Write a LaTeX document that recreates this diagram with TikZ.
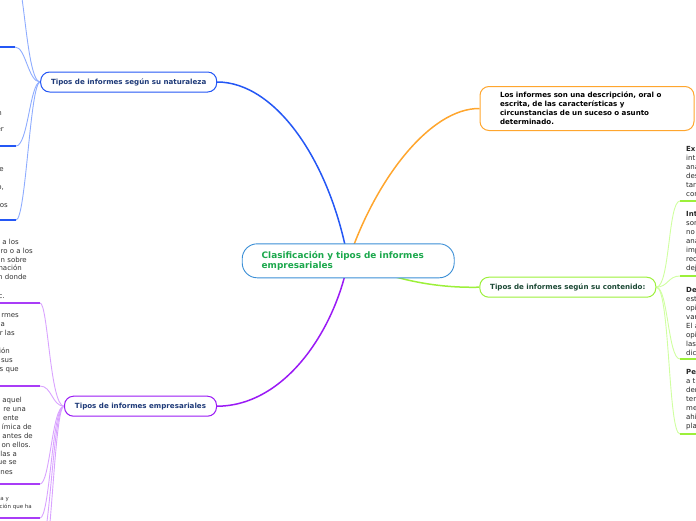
\documentclass[tikz,border=0pt]{standalone}
\usepackage{fontspec}
\setmainfont{DejaVu Sans}
\usetikzlibrary{backgrounds}

\definecolor{rootline}{HTML}{3B8FD6}
\definecolor{rootgreen}{HTML}{1BA84C}
\definecolor{natblue}{HTML}{2457F5}
\definecolor{natleaf}{HTML}{8EACFF}
\definecolor{empurple}{HTML}{9A1AF5}
\definecolor{empleaf}{HTML}{D9A3FF}
\definecolor{conlime}{HTML}{9CF03A}
\definecolor{conleaf}{HTML}{CFFFA0}
\definecolor{deforange}{HTML}{FFA62E}
\definecolor{navytext}{HTML}{1E3A78}
\definecolor{condark}{HTML}{1D4A36}
\definecolor{leaftext}{HTML}{333333}

\begin{document}
\begin{tikzpicture}[x=1pt, y=-1pt,
    topic/.style={draw, line width=1pt, rounded corners=9pt, fill=white, minimum height=20pt,
      inner xsep=0pt, font=\fontsize{7.1}{9}\selectfont\bfseries, text=navytext},
    branch/.style={line width=1.5pt},
    twig/.style={line width=0.9pt},
    shelf/.style={line width=1.8pt},
    leaf/.style={font=\fontsize{7}{9}\selectfont, text=leaftext, inner sep=0pt}]
    \useasboundingbox (0,0) rectangle (696,520);
    \clip (0,0) rectangle (696,520);

    % Central topic
    \node[topic, draw=rootline, line width=0.9pt, rounded corners=15pt, minimum width=212pt,
      minimum height=34pt, text width=173pt, inner xsep=19.5pt, align=left,
      font=\fontsize{8.9}{10.5}\selectfont\bfseries, text=rootgreen] (root) at (348.2,260.8)
      {Clasificación y tipos de informes\\empresariales};

    % Main topics
    \node[topic, draw=natblue, minimum width=176pt] (nat) at (128.7,82) {Tipos de informes según su naturaleza};
    \node[topic, draw=empurple, minimum width=152pt] (emp) at (140.5,406.2) {Tipos de informes empresariales};
    \node[topic, draw=conlime, minimum width=176pt, text=condark] (con) at (567.8,287.2) {Tipos de informes según su contenido:};
    \node[topic, draw=deforange, minimum height=44pt, text width=174pt, inner xsep=20pt, align=left,
      text=black] (def) at (587,108.5)
      {Los informes son una descripción, oral o\\escrita, de las características y\\circunstancias de un suceso o asunto\\determinado.};

    % Leaf anchors
    \coordinate (n0) at (14,-30);
    \coordinate (n1) at (15,47);
    \coordinate (n2) at (16,146);
    \coordinate (n3) at (16,220);
    \coordinate (e1) at (40,303);
    \coordinate (e2) at (40,386);
    \coordinate (e3) at (40,484);
    \coordinate (e4) at (40,518);
    \coordinate (e5) at (40,548);
    \coordinate (e6) at (40,580);
    \coordinate (c1) at (680,201);
    \coordinate (c2) at (680,276);
    \coordinate (c3) at (680,359);
    \coordinate (c4) at (680,434);

    % Leaf texts (cut off by the page edges)
    \foreach \txt/\x/\y [count=\i] in {n/2/113, er/4/129, e/4/169, {o,}/4/187, os/8/205}
      \node[leaf, anchor=base east] (nl\i) at (\x,\y+2.4) {\txt};
    \foreach \txt/\x/\y [count=\i] in {a los/19/242, ro o a los/33/251, n sobre/27/260, nación/22/268,
        n donde/27/277, c./5/296, rmes/19/315, a/5/324, r las/15/333, ión/10/351, sus/13/360,
        s que/19/369, aquel/22/400, re una/26/409, ente/19/418, ímica de/32/427, antes de/33/436,
        on ellos./31/445, las a/17/454, ue se/17/462, nes/13/472}
      \node[leaf, anchor=base east] (el\i) at (\x,\y+2.4) {\txt};
    \node[leaf, anchor=base east, font=\fontsize{5.5}{7}\selectfont] (es1) at (9,500.5) {a y};
    \node[leaf, anchor=base east, font=\fontsize{5.5}{7}\selectfont] (es2) at (32,508.5) {ción que ha};
    \foreach \txt/\y [count=\i] in {\textbf{Ex}/149, int/158, ana/167, des/176, tar/185, con/194,
        \textbf{Int}/214, sor/223, no/232, ana/241, imp/250, rec/259, dej/268,
        \textbf{De}/290, est/299, opi/308, var/317, El a/326, opi/335, las/344, dic/353,
        \textbf{Pe}/372, a t/381, der/390, ter/399, me/408, ahi/417, pla/426}
      \node[leaf, anchor=base west, text=black!85] (cl\i) at (686,\y+2.4) {\txt};

    \begin{scope}[on background layer]
      % Branches
      \draw[branch, natblue] (root.center) .. controls (330,160) and (275,82) .. (nat.east);
      \draw[branch, deforange] (root.center) .. controls (375,180) and (430,108) .. (def.west);
      \draw[branch, conlime] (root.center) .. controls (400,282) and (440,288) .. (con.west);
      \draw[branch, empurple] (root.center) .. controls (335,330) and (285,406) .. (emp.east);

      % Naturaleza leaves
      \draw[twig, natleaf] (nat.west) .. controls (26,82) and (24,-30) .. (n0);
      \draw[twig, natleaf] (nat.west) .. controls (28,82) and (26,47) .. (n1);
      \draw[twig, natleaf] (nat.west) .. controls (30,82) and (28,146) .. (n2);
      \draw[twig, natleaf] (nat.west) .. controls (30,82) and (26,220) .. (n3);
      \foreach \c in {n0,n1,n2,n3}
        \draw[shelf, natblue] (\c) -- ++(-80,0);

      % Empresariales leaves
      \draw[twig, empleaf] (emp.west) .. controls (50,406) and (48,303) .. (e1);
      \draw[twig, empleaf] (emp.west) .. controls (52,406) and (52,386) .. (e2);
      \draw[twig, empleaf] (emp.west) .. controls (52,406) and (50,484) .. (e3);
      \draw[twig, empleaf] (emp.west) .. controls (52,406) and (50,518) .. (e4);
      \draw[twig, empleaf] (emp.west) .. controls (53,406) and (50,548) .. (e5);
      \draw[twig, empleaf] (emp.west) .. controls (54,406) and (51,580) .. (e6);
      \foreach \c in {e1,e2,e3,e4,e5,e6}
        \draw[shelf, empurple!85] (\c) -- ++(-80,0);

      % Contenido leaves
      \draw[twig, conleaf] (con.east) .. controls (670,287) and (668,201) .. (c1);
      \draw[twig, conleaf] (con.east) .. controls (668,287) and (668,276) .. (c2);
      \draw[twig, conleaf] (con.east) .. controls (668,287) and (668,359) .. (c3);
      \draw[twig, conleaf] (con.east) .. controls (670,287) and (668,434) .. (c4);
      \foreach \c in {c1,c2,c3,c4}
        \draw[shelf, conlime] (\c) -- ++(40,0);
    \end{scope}
\end{tikzpicture}
\end{document}
